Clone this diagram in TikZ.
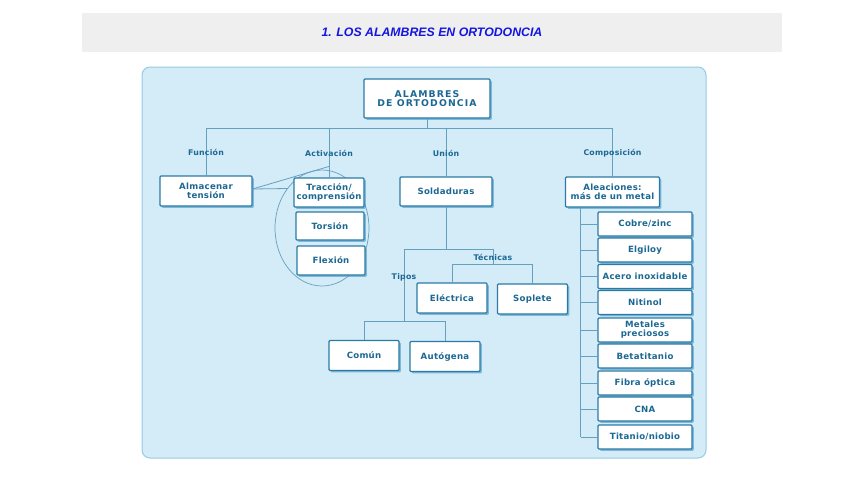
\documentclass[tikz,border=0pt]{standalone}
\usepackage{fontspec}
\setmainfont{DejaVu Sans}
\newfontfamily\titlefont{Liberation Sans}
\newfontfamily\boxfont[LetterSpace=3]{DejaVu Sans}
\newfontfamily\rootfont[LetterSpace=12]{DejaVu Sans}
\usepackage{tikz}
\usetikzlibrary{positioning, calc, shapes.geometric, shadows, backgrounds}
\pgfdeclarelayer{background}
\pgfsetlayers{background, main}
\usepackage{xcolor}
\definecolor{BandGray}{RGB}{239, 239, 239}
\definecolor{TitleBlue}{RGB}{20, 20, 225}
\definecolor{PanelBlue}{RGB}{212, 235, 248}
\definecolor{PanelEdge}{RGB}{150, 202, 226}
\definecolor{BoxEdge}{RGB}{42, 122, 164}
\definecolor{InkBlue}{RGB}{28, 104, 146}
\definecolor{WireBlue}{RGB}{100, 160, 192}
\definecolor{ShadeBlue}{RGB}{70, 150, 200}

\tikzset{
  box/.style={draw=BoxEdge, line width=1.1pt, fill=white, rounded corners=1pt,
    text=InkBlue, font=\boxfont\bfseries\fontsize{8.6}{9}\selectfont, align=center, inner sep=1pt,
    drop shadow={shadow xshift=1.8pt, shadow yshift=-1.8pt, fill=ShadeBlue, opacity=0.6}},
  leafbox/.style={box, minimum width=94pt, minimum height=24pt},
  wire/.style={draw=WireBlue, line width=0.8pt},
  tag/.style={text=InkBlue, font=\boxfont\bfseries\fontsize{7.8}{7.8}\selectfont, inner sep=0pt},
}

\begin{document}
\begin{tikzpicture}[x=1pt, y=-1pt]
\useasboundingbox (0,0) rectangle (848,477);

% title band
\node[fill=BandGray, minimum width=700pt, minimum height=39pt, inner sep=0pt] (band) at (432,32.5) {};
\node[text=TitleBlue, font=\titlefont\bfseries\itshape\fontsize{12.3}{13}\selectfont] (title) at (band.center) {1. LOS ALAMBRES EN ORTODONCIA};

% panel
\begin{pgfonlayer}{background}
\draw[draw=PanelEdge, fill=PanelBlue, line width=1pt, rounded corners=8pt] (142,67) rectangle (706,458);
\end{pgfonlayer}

% ellipse round the activation boxes
\node[ellipse, draw=WireBlue, line width=0.7pt, minimum width=94pt, minimum height=116pt, inner sep=0pt] (ring) at (322,228) {};

% boxes
\node[box, minimum width=126pt, minimum height=39pt, font=\rootfont\bfseries\fontsize{9.3}{9.5}\selectfont] (root) at (427,98.5) {ALAMBRES\\DE ORTODONCIA};
\node[box, minimum width=92pt, minimum height=30pt] (alm) at (206,191) {Almacenar\\tensión};
\node[box, minimum width=70pt, minimum height=29pt] (tracc) at (329,192.5) {Tracción/\\comprensión};
\node[box, minimum width=68pt, minimum height=28pt] (tors) at (330,226) {Torsión};
\node[box, minimum width=68pt, minimum height=29pt] (flex) at (331,260.5) {Flexión};
\node[box, minimum width=92pt, minimum height=29pt] (sold) at (446,191.5) {Soldaduras};
\node[box, minimum width=94pt, minimum height=30pt] (alea) at (612.5,192) {Aleaciones:\\más de un metal};
\node[box, minimum width=70pt, minimum height=30pt] (elec) at (452,298) {Eléctrica};
\node[box, minimum width=70pt, minimum height=30pt] (sopl) at (532.5,299) {Soplete};
\node[box, minimum width=70pt, minimum height=30pt] (comun) at (364,355.5) {Común};
\node[box, minimum width=70pt, minimum height=30pt] (autog) at (445,356.5) {Autógena};

% the alloys
\foreach \i/\y/\t in {1/224/{Cobre/zinc}, 2/250/Elgiloy, 3/276.5/Acero inoxidable, 4/302.5/Nitinol,
    5/330/{Metales\\preciosos}, 6/356/Betatitanio, 7/383/Fibra óptica, 8/409/CNA, 9/437/{Titanio/niobio}}
  \node[leafbox] (al\i) at (645,\y) {\t};

% top level branches
\coordinate (hub) at (427,128);
\draw[wire] (root) -- (hub);
\draw[wire] (alm.north |- hub) -- (alea.north |- hub);
\draw[wire] (alm.north |- hub) -- node[tag, pos=0.52] {Función} (alm.north);
\draw[wire] (tracc.north |- hub) -- node[tag, pos=0.52] (activ) {Activación} (tracc.north);
\draw[wire] (sold.north |- hub) -- node[tag, pos=0.52] {Unión} (sold.north);
\draw[wire] (alea.north |- hub) -- node[tag, pos=0.52] {Composición} (alea.north);

% links from Almacenar
\draw[wire] ([yshift=2pt]alm.east) -- ($(tracc.north)+(0,-11)$);
\draw[wire] ([yshift=2pt]alm.east) -- ($(ring.center)+(-35,-39.5)$);

% soldering
\coordinate (split) at (446,249);
\coordinate (tipos) at (404,249);
\coordinate (tecn) at (493,249);
\draw[wire] (sold) -- (split);
\draw[wire] (tipos) -- (tecn);
\draw[wire] (tecn) -- node[tag, pos=0.55] {Técnicas} ++(0,15) coordinate (tecnbar);
\draw[wire] (elec.north |- tecnbar) -- (sopl.north |- tecnbar);
\draw[wire] (elec.north |- tecnbar) -- (elec.north);
\draw[wire] (sopl.north |- tecnbar) -- (sopl.north);
\draw[wire] (tipos) -- node[tag, pos=0.39] {Tipos} (404,321) coordinate (tiposbar);
\draw[wire] (comun.north |- tiposbar) -- (autog.north |- tiposbar);
\draw[wire] (comun.north |- tiposbar) -- (comun.north);
\draw[wire] (autog.north |- tiposbar) -- (autog.north);

% alloy trunk
\coordinate (trunk) at (580.5,0);
\draw[wire] (trunk |- alea.south) -- (trunk |- al9);
\foreach \i in {1,...,9}
  \draw[wire] (trunk |- al\i) -- (al\i.west);

\end{tikzpicture}
\end{document}
